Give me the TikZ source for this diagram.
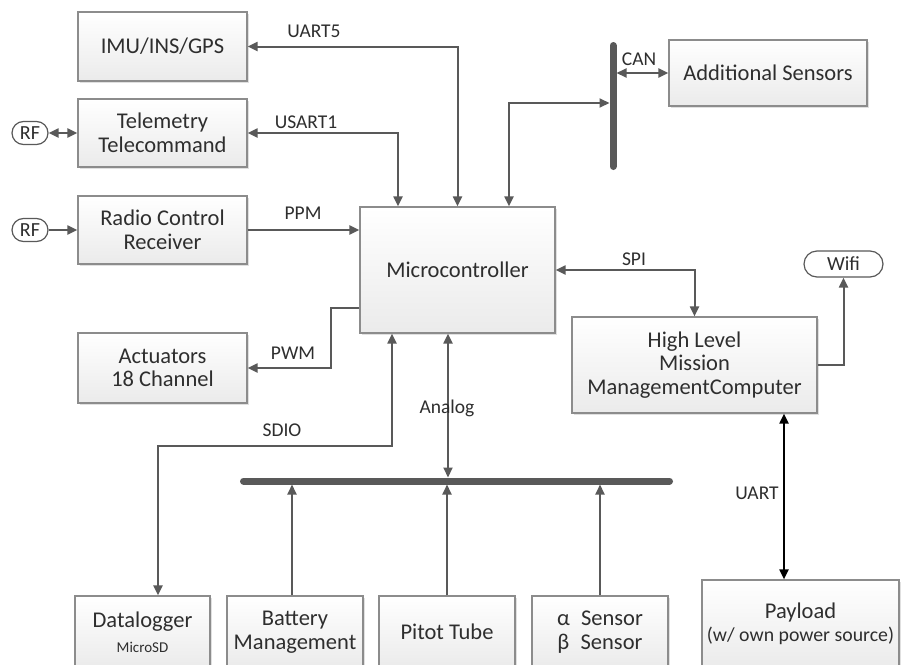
\documentclass[tikz,border=0pt]{standalone}
\usepackage{fontspec}
\setmainfont{Carlito}
\usetikzlibrary{arrows.meta,shapes.misc,shadows}
\definecolor{wiregray}{HTML}{595959}
\definecolor{edgegray}{HTML}{8C8C8C}
\definecolor{ink}{HTML}{2E2E2E}
\begin{document}
\begin{tikzpicture}[x=1pt,y=-1pt,
  >={Triangle[length=10pt,width=9pt]},
  box/.style={draw=edgegray, line width=1.2pt, top color=white, bottom color=black!8,
    text=ink, align=center, inner sep=0pt,
    font=\fontsize{22.5}{23.5}\selectfont,
    drop shadow={shadow xshift=1.5pt, shadow yshift=-1.5pt, opacity=0.12, fill=black}},
  pill/.style={rounded rectangle, draw=wiregray, line width=1.2pt, fill=white,
    text=ink, inner sep=0pt, font=\fontsize{20}{21}\selectfont},
  conn/.style={draw=wiregray, line width=2pt},
  bus/.style={draw=wiregray, line width=7pt, line cap=round},
  lbl/.style={text=ink, inner sep=0pt, font=\fontsize{19.5}{20}\selectfont}]

\fill[white] (0,0) rectangle (902,664);
\clip (0,0) rectangle (902,664);

% blocks
\node[box, minimum width=169pt, minimum height=69pt] (imu) at (162.5,46.5) {IMU/INS/GPS};
\node[box, minimum width=169pt, minimum height=68pt] (tele) at (162.5,133) {Telemetry\\Telecommand};
\node[box, minimum width=169pt, minimum height=68pt] (radio) at (162.5,230) {Radio Control\\Receiver};
\node[box, minimum width=169pt, minimum height=70pt] (act) at (162.5,368) {Actuators\\18 Channel};
\node[box, minimum width=195pt, minimum height=126pt] (mcu) at (457.5,270) {Microcontroller};
\node[box, minimum width=198pt, minimum height=66pt] (adds) at (768,73) {Additional Sensors};
\node[box, minimum width=245pt, minimum height=96pt] (hlmc) at (694.5,365) {High Level\\Mission\\ManagementComputer};
\node[pill, minimum width=79pt, minimum height=26pt] (wifi) at (843.5,264) {Wifi};
\node[pill, minimum width=36pt, minimum height=23pt] (rfa) at (30,133) {RF};
\node[pill, minimum width=36pt, minimum height=23pt] (rfb) at (30,230) {RF};

\node[box, minimum width=135pt, minimum height=72pt] (dlog) at (142.5,632)
  {Datalogger\\[1pt]{\fontsize{15}{16}\selectfont MicroSD}};
\node[box, minimum width=136pt, minimum height=72pt] (batt) at (295,632) {Battery\\Management};
\node[box, minimum width=136pt, minimum height=72pt] (pitot) at (447,632) {Pitot Tube};
\node[box, minimum width=136pt, minimum height=72pt] (aoa) at (600,632) {α\enspace Sensor\\β\enspace Sensor};
\node[box, minimum width=197pt, minimum height=88pt] (pay) at (800.5,624)
  {Payload\\{\fontsize{19.8}{25}\selectfont (w/ own power source)}};

% bus bars
\coordinate (canA) at (613,45.5);
\coordinate (canB) at (613,166.5);
\coordinate (anaA) at (243.5,481);
\coordinate (anaB) at (669.5,481);
\draw[bus] (canA) -- (canB);
\draw[bus] (anaA) -- (anaB);

% helper coordinates for wire positions
\coordinate (canIn) at (609.5,103);
\coordinate (canOut) at (616.5,73);
\coordinate (busTop) at (0,477.5);
\coordinate (busBot) at (0,484.5);
\coordinate (usx) at (398,0);
\coordinate (cnx) at (509,0);
\coordinate (pwmy) at (0,308);
\coordinate (pwmx) at (331,0);
\coordinate (sdx) at (392,0);
\coordinate (sdy) at (0,446);
\coordinate (dlx) at (158,0);
\coordinate (anx) at (448,0);
\coordinate (btx) at (292,0);
\coordinate (ux) at (784,0);

% connectors
\draw[conn,<->] (imu.east) -| (mcu.north);
\draw[conn,<->] (tele.east) -| (mcu.north -| usx);
\draw[conn,<->] (mcu.north -| cnx) |- (canIn);
\draw[conn,<->] (canOut) -- (adds.west);
\draw[conn,<->] (rfa.east) -- (tele.west);
\draw[conn,->] (rfb.east) -- (radio.west);
\draw[conn,->] (radio.east) -- (radio.east -| mcu.west);
\draw[conn,->] (mcu.west |- pwmy) -- (pwmx |- pwmy) |- (act.east);
\draw[conn,<->] (mcu.east) -| (hlmc.north);
\draw[conn,->] (hlmc.east) -| (wifi.south);
\draw[line width=2pt, draw=black, <->] (hlmc.south -| ux) -- (pay.north -| ux);
\draw[conn,<->] (mcu.south -| sdx) |- (sdy -| dlx) -- (dlog.north -| dlx);
\draw[conn,<->] (mcu.south -| anx) -- (busTop -| anx);
\draw[conn,->] (pitot.north) -- (pitot.north |- busBot);
\draw[conn,->] (batt.north -| btx) -- (busBot -| btx);
\draw[conn,->] (aoa.north) -- (aoa.north |- busBot);

% signal labels
\node[lbl] (tUartFive) at (314,31) {UART5};
\node[lbl] (tUsart) at (306,122) {USART1};
\node[lbl] (tPpm) at (303,213) {PPM};
\node[lbl] (tCan) at (639,59) {CAN};
\node[lbl] (tSpi) at (634,259) {SPI};
\node[lbl] (tPwm) at (293,353) {PWM};
\node[lbl] (tSdio) at (282,430) {SDIO};
\node[lbl] (tAnalog) at (447,408) {Analog};
\node[lbl] (tUart) at (757,493) {UART};
\end{tikzpicture}
\end{document}
